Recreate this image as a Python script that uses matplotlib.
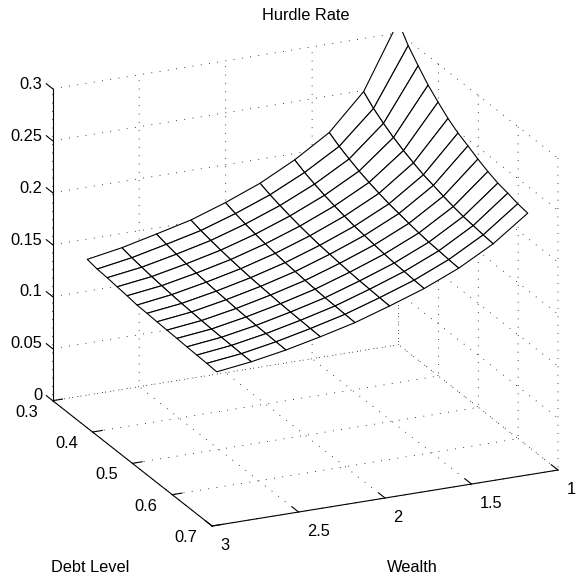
import matplotlib
matplotlib.use('Agg')
import matplotlib.pyplot as plt
import numpy as np
from matplotlib.transforms import Bbox
from matplotlib.text import Text
from mpl_toolkits.mplot3d import proj3d

plt.rcParams['font.family'] = ['Liberation Sans', 'DejaVu Sans']
FS = 11.8

wealth = [2.973, 2.773, 2.573, 2.374, 2.174, 1.974, 1.774, 1.574, 1.375, 1.175]
debt = [0.375, 0.4, 0.425, 0.45, 0.475, 0.5, 0.525, 0.55, 0.575, 0.6, 0.625, 0.65, 0.675, 0.7]

# one list per wealth value, running along the debt values
rate_w0 = [.1578, .1560, .1552, .1540, .1529, .1515, .1511, .1505, .1500, .1496, .1490, .1486, .1482, .1476]
rate_w1 = [.1636, .1615, .1599, .1584, .1572, .1561, .1552, .1545, .1538, .1532, .1528, .1525, .1521, .1519]
rate_w2 = [.1714, .1690, .1670, .1653, .1639, .1627, .1616, .1609, .1600, .1594, .1588, .1585, .1581, .1578]
rate_w3 = [.1795, .1769, .1749, .1731, .1716, .1703, .1692, .1684, .1676, .1668, .1663, .1659, .1655, .1652]
rate_w4 = [.1909, .1878, .1853, .1831, .1813, .1797, .1783, .1773, .1763, .1754, .1747, .1743, .1738, .1734]
rate_w5 = [.2041, .2005, .1977, .1952, .1930, .1912, .1896, .1885, .1873, .1863, .1855, .1850, .1844, .1840]
rate_w6 = [.2212, .2166, .2129, .2097, .2070, .2047, .2026, .2012, .1997, .1984, .1973, .1967, .1959, .1954]
rate_w7 = [.2421, .2363, .2317, .2276, .2242, .2213, .2187, .2169, .2150, .2133, .2120, .2112, .2103, .2096]
rate_w8 = [.2762, .2675, .2607, .2546, .2495, .2452, .2413, .2386, .2357, .2333, .2313, .2301, .2287, .2277]
rate_w9 = [.3379, .3226, .3107, .2996, .2908, .2826, .2761, .2713, .2661, .2617, .2581, .2560, .2533, .2518]

wealth_ticks = [1, 1.5, 2, 2.5, 3]
wealth_labels = ['1', '1.5', '2', '2.5', '3']
debt_ticks = [0.3, 0.4, 0.5, 0.6, 0.7]
debt_labels = ['0.3', '0.4', '0.5', '0.6', '0.7']
rate_ticks = [0, 0.05, 0.1, 0.15, 0.2, 0.25, 0.3]
rate_labels = ['0', '0.05', '0.1', '0.15', '0.2', '0.25', '0.3']

W, H = 576, 576
fig = plt.figure(figsize=(W / 100, H / 100), dpi=100)
ax = fig.add_axes([0, 0, 1, 1], projection='3d', proj_type='ortho', computed_zorder=False)
ax.view_init(elev=20.9, azim=65.6)
aspect = (380, 386, 334)
ax.set_box_aspect(aspect, zoom=1)

X, Y = np.meshgrid(wealth, debt, indexing='ij')
Z = np.array([rate_w0, rate_w1, rate_w2, rate_w3, rate_w4, rate_w5, rate_w6, rate_w7, rate_w8, rate_w9])
surf = ax.plot_surface(X, Y, Z, rstride=1, cstride=1, color='white', edgecolor='black',
                       linewidth=0.8, shade=False, antialiased=True)
surf.set_clip_path(None)
surf.set_clip_box(Bbox.from_extents(0, 0, W, H - 32))

ax.set_xlim(1, 3, view_margin=0)
ax.set_ylim(0.3, 0.7, view_margin=0)
ax.set_zlim(0, 0.3, view_margin=0)
ax.set_xticks(wealth_ticks, wealth_labels)
ax.set_yticks(debt_ticks, debt_labels)
ax.set_zticks(rate_ticks, rate_labels)
ax.tick_params(axis='both', pad=2, labelsize=FS)
ax.tick_params(axis='z', pad=2, labelsize=FS)
ax.zaxis._get_tickdir = lambda pos: 1

tick_out = {ax.xaxis: 0.5, ax.yaxis: 0.35, ax.zaxis: 0.5}
for a in (ax.xaxis, ax.yaxis, ax.zaxis):
    a.set_pane_color((1, 1, 1, 0))
    a.pane.set_edgecolor('none')
    a.line.set_color('black')
    a.line.set_linewidth(0.8)
    a._axinfo['grid'].update(color='black', linewidth=0.6, linestyle=(0, (1, 9)))
    a._axinfo['tick'].update(inward_factor=0, outward_factor=tick_out[a], linewidth={True: 0.8, False: 0.5})
    a._axinfo['axisline']['linewidth'] = 0.8


def px(x, y, z):
    ax.M = ax.get_proj()
    u, v, _ = proj3d.proj_transform(x, y, z, ax.M)
    return ax.transData.transform((u, v))


# fit the cube to the reference's position on the page
fig.canvas.draw()
p0 = px(3, 0.3, 0)
p1 = px(1, 0.7, 0)
ax.set_box_aspect(aspect, zoom=(558 - 52.7) / abs(p1[0] - p0[0]))
fig.canvas.draw()
p0 = px(3, 0.3, 0)
p1 = px(1, 0.7, 0)
dx = (52.7 + 558) / 2 - (p0[0] + p1[0]) / 2
dy = (H - (400.7 + 470) / 2) - (p0[1] + p1[1]) / 2
ax.set_position([dx / W, dy / H, 1, 1])
fig.canvas.draw()

o = ax.transData.transform((0, 0))
sx = ax.transData.transform((1, 0))[0] - o[0]
sy = ax.transData.transform((0, 1))[1] - o[1]


def nudge(axis, ox, oy, ha=None):
    # move native tick labels by pixels (oy measured downward)
    for t in axis.get_major_ticks():
        lab = t.label1
        if ha:
            lab.set_ha(ha)
        base = lab.set_position
        lab.set_position = (lambda b: lambda xy: b((xy[0] + ox / sx, xy[1] - oy / sy)))(base)


nudge(ax.xaxis, 1, -8, ha='left')
nudge(ax.yaxis, -10, -13)
nudge(ax.zaxis, 13, -9, ha='right')


def pin(lab, text, x, y, data=True):
    lab.set_text(text)
    lab.set_fontsize(FS)
    lab.set_fontweight('normal')
    lab.set_ha('center')
    lab.set_va('center')
    if data:
        Text.set_position(lab, ax.transData.inverted().transform((x, H - y)))
    else:
        lab.set_transform(fig.transFigure)
        Text.set_position(lab, (x / W, 1 - y / H))
    lab.set_position = lambda *a, **k: None


ax.set_title('Hurdle Rate')
pin(ax.title, 'Hurdle Rate', 306, 15, data=False)
ax.xaxis.set_rotate_label(False)
ax.yaxis.set_rotate_label(False)
ax.set_xlabel('Wealth')
ax.set_ylabel('Debt Level')
pin(ax.xaxis.label, 'Wealth', 412, 567)
pin(ax.yaxis.label, 'Debt Level', 90, 568)

fig.savefig('out.png', dpi=100)
